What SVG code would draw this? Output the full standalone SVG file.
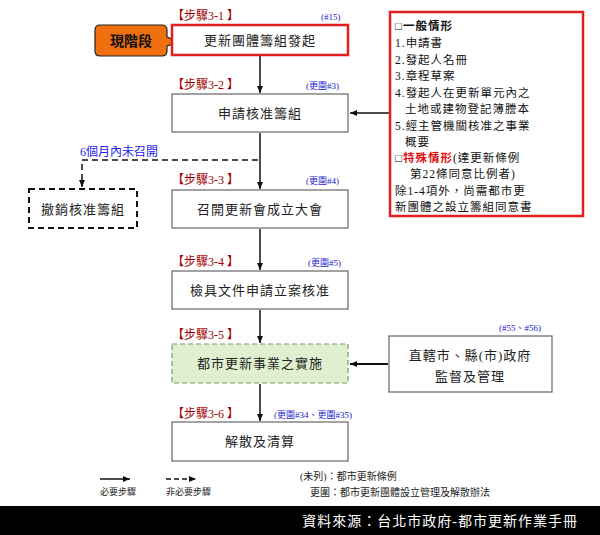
<svg xmlns="http://www.w3.org/2000/svg" width="600" height="535" viewBox="0 0 600 535">
<defs>
<style>
text{font-family:"Liberation Serif","Noto Sans CJK TC",serif;}
.box{fill:#fff;stroke:#666;stroke-width:1.2}
.bt{font-size:13px;fill:#222;text-anchor:middle;letter-spacing:1px}
.step{font-size:12px;fill:#a00000}
.ref{font-size:9px;fill:#2222cc}
.ln{stroke:#111;stroke-width:1.5;fill:none}
.rt{font-size:11.5px;fill:#111;letter-spacing:1px}
</style>
<marker id="ar" markerWidth="8" markerHeight="8" refX="7" refY="4" orient="auto" markerUnits="userSpaceOnUse"><path d="M0,1 L7,4 L0,7 z" fill="#111"/></marker>
</defs>
<rect width="600" height="535" fill="#fff"/>
<g id="connectors">
<line class="ln" x1="260" y1="56" x2="260" y2="93" marker-end="url(#ar)"/>
<line class="ln" x1="260" y1="133" x2="260" y2="189" marker-end="url(#ar)"/>
<line class="ln" x1="260" y1="229" x2="260" y2="270" marker-end="url(#ar)"/>
<line class="ln" x1="260" y1="310" x2="260" y2="343" marker-end="url(#ar)"/>
<line class="ln" x1="260" y1="384" x2="260" y2="421" marker-end="url(#ar)"/>
<line class="ln" x1="390" y1="113" x2="350" y2="113" marker-end="url(#ar)"/>
<line x1="388" y1="364" x2="350" y2="364" stroke="#111" stroke-width="2.2" marker-end="url(#ar)"/>
<path class="ln" d="M258,160 H82 V187" stroke-dasharray="6,4" marker-end="url(#ar)"/>
<text x="80" y="156" font-size="12" fill="#2222ee">6個月內未召開</text>
</g>
<g id="callout">
<path d="M100,25 H162 Q167,25 167,30 V37 L180,42 L167,46 V51 Q167,56 162,56 H100 Q95,56 95,51 V30 Q95,25 100,25 Z" fill="#f07010" stroke="#222" stroke-width="1.2"/>
<text x="131" y="46" font-size="14" font-weight="bold" fill="#111" text-anchor="middle">現階段</text>
</g>
<g id="s1">
<text class="step" x="172" y="20">【步驟3-1 】</text><text class="ref" x="321" y="20">(#15)</text>
<rect x="172" y="25" width="176" height="30" fill="#fff" stroke="#e02020" stroke-width="2.5"/>
<text class="bt" x="260" y="45">更新團體籌組發起</text>
</g>
<g id="s2">
<text class="step" x="172" y="89">【步驟3-2 】</text><text class="ref" x="306" y="89">(更圍#3)</text>
<rect class="box" x="172" y="94" width="176" height="38"/>
<text class="bt" x="260" y="118">申請核准籌組</text>
</g>
<g id="s3">
<text class="step" x="172" y="184">【步驟3-3 】</text><text class="ref" x="306" y="184">(更圍#4)</text>
<rect class="box" x="172" y="190" width="176" height="38"/>
<text class="bt" x="260" y="214">召開更新會成立大會</text>
</g>
<g id="cancel">
<rect x="29" y="189" width="108" height="39" fill="#fff" stroke="#111" stroke-width="2" stroke-dasharray="6,4"/>
<text class="bt" x="83" y="214">撤銷核准籌組</text>
</g>
<g id="s4">
<text class="step" x="172" y="266">【步驟3-4 】</text><text class="ref" x="308" y="266">(更圍#5)</text>
<rect class="box" x="172" y="271" width="176" height="38"/>
<text class="bt" x="260" y="295">檢具文件申請立案核准</text>
</g>
<g id="s5">
<text class="step" x="172" y="339">【步驟3-5 】</text>
<rect x="172" y="344" width="176" height="39" fill="#dff0d0" stroke="#7a9a6a" stroke-width="1.2" stroke-dasharray="5,3"/>
<text class="bt" x="260" y="368">都市更新事業之實施</text>
</g>
<g id="gov">
<text class="ref" x="499" y="331">(#55、#56)</text>
<rect class="box" x="389" y="336" width="163" height="56"/>
<text class="bt" x="470" y="360">直轄市、縣(市)政府</text>
<text class="bt" x="470" y="381">監督及管理</text>
</g>
<g id="s6">
<text class="step" x="172" y="418">【步驟3-6 】</text><text class="ref" x="274" y="418">(更圍#34、更圍#35)</text>
<rect class="box" x="172" y="422" width="176" height="39"/>
<text class="bt" x="260" y="446">解散及清算</text>
</g>
<g id="docs">
<rect x="390" y="12" width="193" height="204" fill="#fff" stroke="#e02020" stroke-width="2.5"/>
<text class="rt" x="395" y="30" font-weight="bold">□一般情形</text>
<text class="rt" x="395" y="47">1.申請書</text>
<text class="rt" x="395" y="64">2.發起人名冊</text>
<text class="rt" x="395" y="80">3.章程草案</text>
<text class="rt" x="395" y="97">4.發起人在更新單元內之</text>
<text class="rt" x="405" y="113">土地或建物登記簿謄本</text>
<text class="rt" x="395" y="130">5.經主管機關核准之事業</text>
<text class="rt" x="405" y="146">概要</text>
<text class="rt" x="395" y="162"><tspan font-weight="bold">□</tspan><tspan font-weight="bold" fill="#e01010">特殊情形</tspan>(達更新條例</text>
<text class="rt" x="410" y="178">第22條同意比例者)</text>
<text class="rt" x="395" y="195">除1-4項外，尚需都市更</text>
<text class="rt" x="395" y="211">新團體之設立籌組同意書</text>
</g>
<g id="legend">
<line class="ln" x1="100" y1="479" x2="130" y2="479" marker-end="url(#ar)"/>
<line class="ln" x1="166" y1="479" x2="196" y2="479" stroke-dasharray="5,3" marker-end="url(#ar)"/>
<text x="100" y="495" font-size="9" fill="#222">必要步驟</text>
<text x="166" y="495" font-size="9" fill="#222">非必要步驟</text>
<text x="300" y="480" font-size="10" fill="#222">(未列)：都市更新條例</text>
<text x="310" y="496" font-size="10" fill="#222">更圍：都市更新團體設立管理及解散辦法</text>
</g>
<g id="footer">
<rect x="0" y="506" width="600" height="29" fill="#000"/>
<text x="578" y="526" font-size="14" fill="#fff" text-anchor="end" letter-spacing="1">資料來源：台北市政府-都市更新作業手冊</text>
</g>
</svg>
